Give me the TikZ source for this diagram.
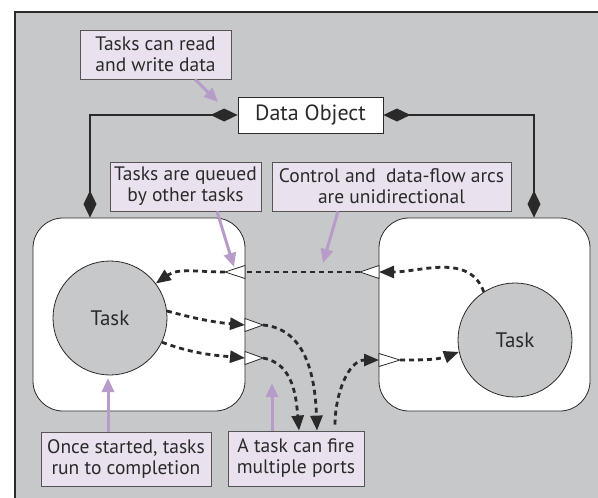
\documentclass[tikz,border=0pt]{standalone}
\usepackage{fontspec}
\setmainfont{PT Sans}
\usetikzlibrary{arrows.meta,calc}
\definecolor{bggray}{HTML}{C7C8CA}
\definecolor{notefill}{HTML}{E9E2EE}
\definecolor{noteline}{HTML}{555555}
\definecolor{pointer}{HTML}{B79BC8}
\definecolor{ink}{HTML}{2A2A2A}
\begin{document}
\begin{tikzpicture}[x=1pt,y=-1pt,
  note/.style={draw=noteline, line width=0.8pt, fill=notefill, text=ink,
    align=center, inner sep=0pt, font=\fontsize{19.5}{21}\selectfont},
  taskbox/.style={draw=ink, line width=0.8pt, fill=white, rounded corners=30pt},
  taskcirc/.style={circle, draw=ink, line width=0.8pt, fill=bggray, text=ink,
    minimum size=114pt, inner sep=0pt, font=\fontsize{21}{24}\selectfont},
  dataline/.style={draw=ink, line width=2.8pt,
    {Diamond[length=27pt,width=13pt]}-{Diamond[length=27pt,width=13pt]}},
  dflow/.style={draw=ink, line width=2.8pt, dash pattern=on 5pt off 4pt},
  dflowtip/.style={dflow, -{Triangle[length=15pt,width=12pt]}},
  pointarrow/.style={draw=pointer, line width=3pt, -{Triangle[length=14pt,width=12pt]}},
  porttri/.style={draw=ink, line width=0.8pt, fill=white, line join=miter}
]
\useasboundingbox (0,0) rectangle (598,498);

% background panel
\fill[bggray] (15,12) rectangle (598,498);
\draw[ink, line width=2.5pt] (15,498) -- (15,12) -- (598,12);

% task containers and tasks
\node[taskbox, minimum width=212pt, minimum height=193pt] (lefttask) at (139,314.5) {};
\node[taskbox, minimum width=211pt, minimum height=193pt] (righttask) at (484.5,314.5) {};
\node[taskcirc] (leftcirc) at (110,318) {Task};
\node[taskcirc] (rightcirc) at (515,340) {Task};

% shared data object
\node[draw=ink, line width=0.8pt, fill=white, text=ink, minimum width=145pt,
  minimum height=36pt, inner sep=0pt, font=\fontsize{22}{24}\selectfont]
  (dataobj) at (310.5,115) {Data Object};

\coordinate (leftattach) at ([xshift=-49pt]lefttask.north);
\coordinate (rightattach) at ([xshift=49.5pt]righttask.north);
\draw[dataline] (dataobj.west) -| (leftattach);
\draw[dataline] (dataobj.east) -| (rightattach);

% notes
\node[note, minimum width=151pt, minimum height=49pt] (readnote) at (155.5,54.5) {Tasks can read\\and write data};
\node[note, minimum width=151pt, minimum height=49pt] (queuenote) at (185.5,186.5) {Tasks are queued\\by other tasks};
\node[note, minimum width=239pt, minimum height=49pt] (arcnote) at (391.5,186.5) {Control and\ \ data-flow arcs\\are unidirectional};
\node[note, minimum width=170pt, minimum height=54pt] (oncenote) at (126,459) {Once started, tasks\\run to completion};
\node[note, minimum width=136pt, minimum height=55pt] (firenote) at (296,458.5) {A task can fire\\multiple ports};

% ports: base on the container edge, tip pointing along the flow
\coordinate (inLb) at (245,272);   \coordinate (inLt) at (225,272);
\coordinate (outRb) at (379,272);  \coordinate (outRt) at (360,272);
\coordinate (outAb) at (245,325);  \coordinate (outAt) at (263,325);
\coordinate (outBb) at (245,358);  \coordinate (outBt) at (263,358);
\coordinate (inRb) at (379,360);   \coordinate (inRt) at (400,360);
\foreach \p in {inL,outR,outA,outB,inR}{
  \draw[porttri] ($(\p b)+(0,-6.5)$) -- (\p t) -- ($(\p b)+(0,6.5)$) -- cycle;
}

% data-flow arcs
\draw[dflowtip] (rightcirc.123) to[out=110,in=0] (outRb);
\draw[dflow] (outRt) -- (inLb);
\draw[dflowtip] (inLt) to[out=180,in=35] (leftcirc.37);
\draw[dflowtip] (leftcirc.7) to[out=-15,in=175] (outAb);
\draw[dflowtip] (leftcirc.-25) to[out=-20,in=175] (outBb);
\coordinate (fireA) at ([xshift=21pt]firenote.north);
\coordinate (fireB) at ([xshift=3pt]firenote.north);
\coordinate (fireC) at ([xshift=39pt,yshift=6pt]firenote.north);
\draw[dflowtip] (outAt) to[out=-5,in=92] (fireA);
\draw[dflowtip] (outBt) to[out=-10,in=95] (fireB);
\draw[dflowtip] (fireC) to[out=90,in=180] (inRb);
\draw[dflowtip] (inRt) to[out=0,in=200] (rightcirc.192);

% pointers from notes
\coordinate (readtip) at (218,102);
\coordinate (queuetip) at (234,267);
\coordinate (arctip) at (323,263);
\coordinate (oncetip) at (108,378);
\coordinate (firetip) at (272,383);
\draw[pointarrow] ([xshift=39.5pt]readnote.south) -- (readtip);
\draw[pointarrow] ([xshift=31.5pt]queuenote.south) -- (queuetip);
\draw[pointarrow] ([xshift=-53.5pt]arcnote.south) -- (arctip);
\draw[pointarrow] ([xshift=-18pt]oncenote.north) -- (oncetip);
\draw[pointarrow] ([xshift=-24pt]firenote.north) -- (firetip);
\end{tikzpicture}
\end{document}
